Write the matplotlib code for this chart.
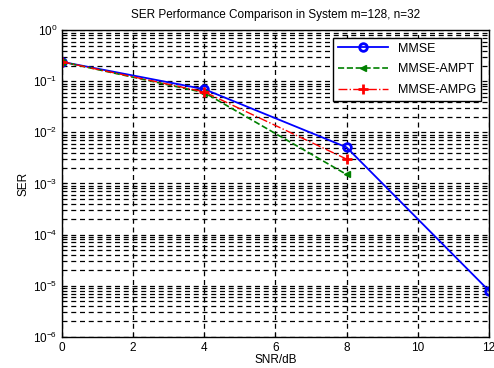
import matplotlib.pyplot as plt
from matplotlib.ticker import NullFormatter
import numpy as np

plt.rcParams['font.family'] = ['Liberation Sans', 'DejaVu Sans']

snr_mmse = [0, 4, 8, 12]
ser_mmse = [0.24, 0.07, 0.0051, 8e-6]
snr_ampt = [0, 4, 8]
ser_ampt = [0.24, 0.06, 0.0015]
snr_ampg = [0, 4, 8]
ser_ampg = [0.24, 0.062, 0.003]

fig = plt.figure(figsize=(4.94, 3.68), dpi=100)
ax = fig.add_axes([0.1255, 0.085, 0.864, 0.833])

ax.semilogy(snr_mmse, ser_mmse, 'b-', marker='o', markersize=5.5, markerfacecolor='none',
            markeredgewidth=2, lw=1.3, label='MMSE')
ax.semilogy(snr_ampt, ser_ampt, color='#008000', ls='--', marker='<', markersize=4,
            lw=1.2, label='MMSE-AMPT')
ax.semilogy(snr_ampg, ser_ampg, 'r-.', marker='+', markersize=7, markeredgewidth=2,
            lw=1.0, label='MMSE-AMPG')

ax.set_xlim(0, 12)
ax.set_ylim(1e-6, 1)
ax.set_xticks(np.arange(0, 13, 2))
ax.yaxis.set_minor_formatter(NullFormatter())
ax.grid(True, which='major', color='k', ls=(0, (4, 3)), lw=0.9)
ax.grid(True, which='minor', axis='y', color='k', ls=(0, (4, 3)), lw=0.9)
ax.tick_params(which='both', direction='in', labelsize=8.5)
ax.tick_params(axis='x', pad=4)
for s in ax.spines.values():
    s.set_linewidth(1.0)

ax.set_xlabel('SNR/dB', fontsize=8.5, labelpad=0)
ax.set_ylabel('SER', fontsize=8.5, labelpad=2)
ax.set_title('SER Performance Comparison in System m=128, n=32', fontsize=8.5, pad=9)

leg = ax.legend(loc='upper right', fontsize=9, fancybox=False, framealpha=1,
                edgecolor='k', handlelength=4, labelspacing=0.7, borderaxespad=0.6)
leg.get_frame().set_linewidth(1.0)

fig.savefig('out.png', dpi=100)
